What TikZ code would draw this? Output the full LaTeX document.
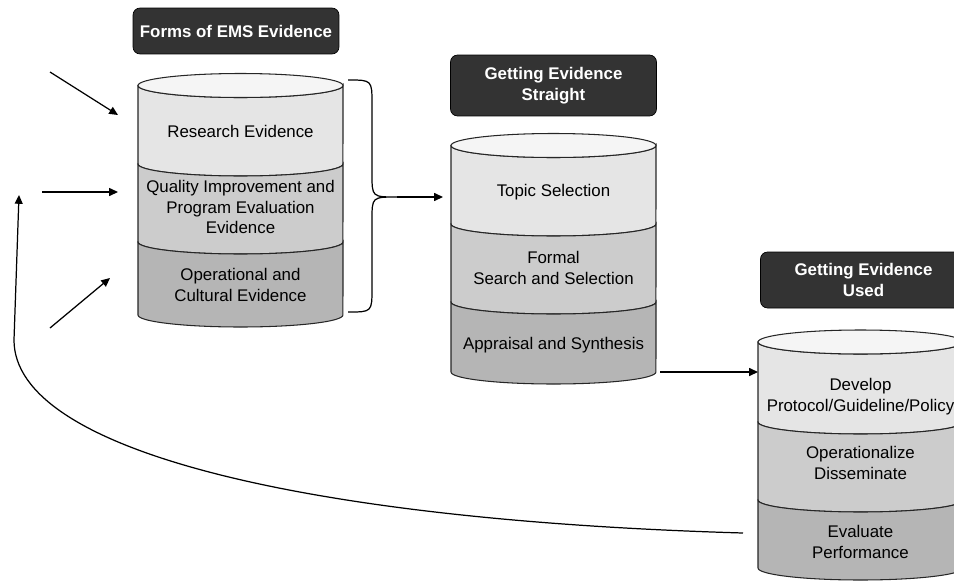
\documentclass[tikz,border=0pt]{standalone}
\usepackage{fontspec}
\setmainfont{Liberation Sans}
\usetikzlibrary{positioning, arrows.meta}

\definecolor{topface}{gray}{0.96}
\definecolor{secA}{gray}{0.90}
\definecolor{secB}{gray}{0.80}
\definecolor{secC}{gray}{0.71}
\definecolor{hdr}{gray}{0.20}

\begin{document}
\begin{tikzpicture}[x=0.02cm, y=-0.02cm,
    header/.style={draw=black, fill=hdr, rounded corners=4pt, text=white, align=center,
      font=\bfseries\fontsize{9.6}{11.9}\selectfont, inner sep=0pt, minimum width=4.12cm},
    sectext/.style={align=center, font=\fontsize{9.6}{11.9}\selectfont, inner sep=0pt},
    wall/.style={draw=black!85, line width=0.6pt},
    flow/.style={-{Triangle[length=5pt,width=4.5pt]}, line width=0.7pt}]
			\useasboundingbox (0,0) rectangle (954,582);
			\clip (0,0) rectangle (954,582);
			
			% the three stacked cylinders
			\foreach \xl/\yt/\da/\db/\ybot in {138/85.5/164/242/315, 451/145.5/224/302/372, 758/342/422/500/568} {
				\pgfmathsetmacro{\xr}{\xl+205}
				\foreach \ya/\yb/\col in {\yt/\da/secA, \da/\db/secB, \db/\ybot/secC}
					\draw[wall, fill=\col] (\xl,\ya) -- (\xl,\yb)
						arc[start angle=180, end angle=360, x radius=2.05cm, y radius=0.24cm]
						-- (\xr,\ya)
						arc[start angle=0, end angle=-180, x radius=2.05cm, y radius=0.24cm] -- cycle;
				\draw[wall, fill=topface] (\xl+102.5,\yt) ellipse [x radius=2.05cm, y radius=0.24cm];
			}
			
			\node[header, minimum height=0.92cm] (hForms) at (236,31) {Forms of EMS Evidence};
			\node[header, minimum height=1.22cm] (hStraight) at (553.5,85.5) {Getting Evidence\\Straight};
			\node[header, minimum height=1.12cm] (hUsed) at (863.5,280) {Getting Evidence\\Used};
			
			\node[sectext] (research) at (240.5,131) {Research Evidence};
			\node[sectext] (quality) at (240.5,207) {Quality Improvement and\\Program Evaluation\\Evidence};
			\node[sectext] (cultural) at (240.5,285) {Operational and\\Cultural Evidence};
			
			\node[sectext] (topic) at (553.5,192) {Topic Selection};
			\node[sectext] (search) at (553.5,268) {Formal\\Search and Selection};
			\node[sectext] (appraisal) at (553.5,345) {Appraisal and Synthesis};
			
			\node[sectext] (develop) at (860.5,397) {Develop\\Protocol/Guideline/Policy};
			\node[sectext] (operate) at (860.5,463) {Operationalize\\Disseminate};
			\node[sectext] (evaluate) at (860.5,542) {Evaluate\\Performance};
			
			% inputs, brace and hand-offs
			\coordinate (src1) at (50,72);    \coordinate (in1) at (118,115);
			\coordinate (src2) at (42,192);   \coordinate (in2) at (118,192);
			\coordinate (src3) at (50,328);   \coordinate (in3) at (110,278);
			\coordinate (braceTop) at (348,80);
			\coordinate (braceTip) at (397,197);
			\coordinate (braceBot) at (348,312);
			\coordinate (inB) at (443,197);
			\coordinate (outB) at (660,372);
			\coordinate (inC) at (758,372);
			\coordinate (outC) at (743,533);
			\coordinate (backTo) at (19,195);
			
			\draw[flow] (src1) -- (in1);
			\draw[flow] (src2) -- (in2);
			\draw[flow] (src3) -- (in3);
			
			\draw[line width=0.7pt] (braceTop) .. controls (372,80) .. (372,104) -- (372,174)
				.. controls (372,197) .. (braceTip) .. controls (372,197) .. (372,220)
				-- (372,288) .. controls (372,312) .. (braceBot);
			\draw[flow] (braceTip) -- (inB);
			\draw[flow] (outB) -- (inC);
			
			% feedback loop
			\draw[flow] (outC) .. controls (300,520) and (14,450) .. (14,340) -- (backTo);
\end{tikzpicture}
\end{document}
